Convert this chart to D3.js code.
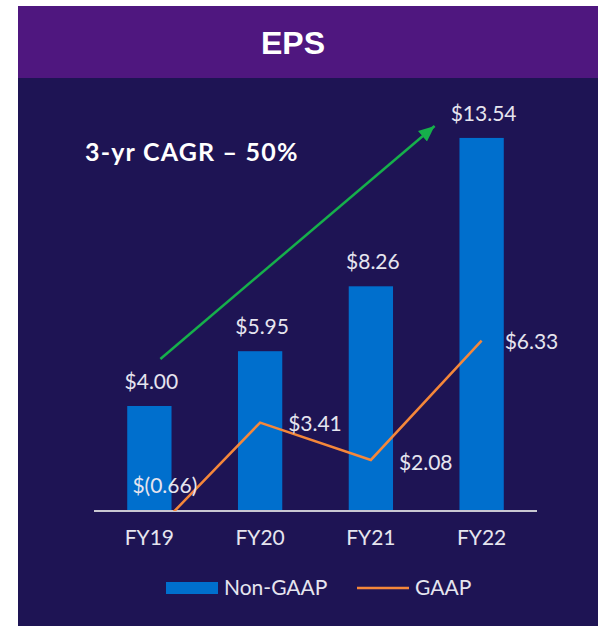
<!DOCTYPE html>
<html>
<head>
<meta charset="utf-8">
<script src="https://cdn.jsdelivr.net/npm/d3@7"></script>
<style>
  body { margin: 0; background: #ffffff; }
  svg { display: block; }
  .val { font-family: Lato, "Open Sans", sans-serif; font-size: 21px; font-weight: 400; fill: #e6e5ef; }
  .tick { font-family: Lato, "Open Sans", sans-serif; font-size: 21px; font-weight: 400; fill: #e6e5ef; }
</style>
</head>
<body>
<script>
var w = 599;
var h = 626;

var years = ["FY19", "FY20", "FY21", "FY22"];
var nonGaap = [4.00, 5.95, 8.26, 13.54];
var gaap = [-0.66, 3.41, 2.08, 6.33];
var nonGaapLabels = ["$4.00", "$5.95", "$8.26", "$13.54"];
var gaapLabels = ["$(0.66)", "$3.41", "$2.08", "$6.33"];

var baseY = 511;

var svg = d3.select("body")
			.append("svg")
			.attr("width", w)
			.attr("height", h);

//Panel + header
svg.append("rect")
	.attr("x", 18).attr("y", 6)
	.attr("width", 580).attr("height", h - 6)
	.attr("fill", "#1e1454");
svg.append("rect")
	.attr("x", 18).attr("y", 6)
	.attr("width", 580).attr("height", 72)
	.attr("fill", "#4f177f");
svg.append("text")
	.attr("x", 293).attr("y", 54)
	.attr("text-anchor", "middle")
	.attr("font-family", "'Liberation Sans', Arial, sans-serif")
	.attr("font-weight", "bold")
	.attr("font-size", 32)
	.attr("fill", "#ffffff")
	.text("EPS");

//Scales
var xScale = d3.scaleBand()
			.domain(years)
			.range([94, 537])
			.paddingInner(0.6)
			.paddingOuter(0.3);
var yScale = d3.scaleLinear()
			.domain([0, 14])
			.range([518.4, 518.4 - 14 * 28.1]);

var cx = function(i) { return xScale(years[i]) + xScale.bandwidth() / 2; };

//Bars
svg.selectAll("rect.bar")
	.data(nonGaap)
	.enter()
	.append("rect")
	.attr("class", "bar")
	.attr("x", function(d, i) { return xScale(years[i]); })
	.attr("y", function(d) { return yScale(d); })
	.attr("width", xScale.bandwidth())
	.attr("height", function(d) { return baseY - yScale(d); })
	.attr("fill", "#006fcd");

//Bar labels
svg.selectAll("text.barLabel")
	.data(nonGaapLabels)
	.enter()
	.append("text")
	.attr("class", "val")
	.attr("text-anchor", "middle")
	.attr("x", function(d, i) { return cx(i) + 2; })
	.attr("y", function(d, i) { return yScale(nonGaap[i]) - 17; })
	.text(function(d) { return d; });

//Axis line
svg.append("line")
	.attr("x1", 94).attr("x2", 537)
	.attr("y1", baseY).attr("y2", baseY)
	.attr("stroke", "#c9c8d2")
	.attr("stroke-width", 2);

//X labels
var xAxis = d3.axisBottom(xScale).tickSize(0).tickPadding(0);
var gx = svg.append("g")
	.attr("transform", "translate(0," + baseY + ")")
	.call(xAxis);
gx.select(".domain").remove();
gx.selectAll("text")
	.attr("class", "tick")
	.attr("dy", null)
	.attr("y", 34)
	.attr("fill", null)
	.attr("font-size", null)
	.attr("font-family", null);

//GAAP line, clipped at axis
svg.append("clipPath")
	.attr("id", "aboveAxis")
	.append("rect")
	.attr("x", 0).attr("y", 0)
	.attr("width", w).attr("height", baseY);
var line = d3.line()
	.x(function(d, i) { return cx(i); })
	.y(function(d) { return yScale(d); });
svg.append("path")
	.datum(gaap)
	.attr("d", line)
	.attr("clip-path", "url(#aboveAxis)")
	.attr("fill", "none")
	.attr("stroke", "#f5873a")
	.attr("stroke-width", 2.5);

//GAAP labels
svg.selectAll("text.gaapLabel")
	.data(gaapLabels)
	.enter()
	.append("text")
	.attr("class", "val")
	.attr("x", function(d, i) { return i === 0 ? cx(i) - 17 : cx(i) + (i === 3 ? 23 : 28); })
	.attr("y", function(d, i) { return i === 0 ? baseY - 18 : yScale(gaap[i]) + (i === 2 ? 10 : 8); })
	.text(function(d) { return d; });

//CAGR arrow
svg.append("defs").append("marker")
	.attr("id", "arrow")
	.attr("markerUnits", "userSpaceOnUse")
	.attr("markerWidth", 18).attr("markerHeight", 16)
	.attr("refX", 16).attr("refY", 7)
	.attr("orient", "auto")
	.append("path")
	.attr("d", "M0,0 L16,7 L0,14 Z")
	.attr("fill", "#16b04b");
svg.append("line")
	.attr("x1", cx(0) + 11).attr("y1", yScale(nonGaap[0]) - 47)
	.attr("x2", cx(3) - 47).attr("y2", yScale(nonGaap[3]) - 12)
	.attr("stroke", "#16b04b")
	.attr("stroke-width", 2.5)
	.attr("marker-end", "url(#arrow)");
svg.append("text")
	.attr("x", 85).attr("y", 161)
	.attr("font-family", "Lato, sans-serif")
	.attr("font-weight", "bold")
	.attr("font-size", 25)
	.attr("letter-spacing", 1.2)
	.attr("fill", "#ffffff")
	.text("3-yr CAGR \u2013 50%");

//Legend
svg.append("rect")
	.attr("x", 166).attr("y", 582)
	.attr("width", 52).attr("height", 12)
	.attr("fill", "#006fcd");
svg.append("text")
	.attr("class", "val")
	.attr("x", 224).attr("y", 595)
	.text("Non-GAAP");
svg.append("line")
	.attr("x1", 357).attr("x2", 409)
	.attr("y1", 588).attr("y2", 588)
	.attr("stroke", "#f5873a")
	.attr("stroke-width", 2.5);
svg.append("text")
	.attr("class", "val")
	.attr("x", 415).attr("y", 595)
	.text("GAAP");
</script>
</body>
</html>
